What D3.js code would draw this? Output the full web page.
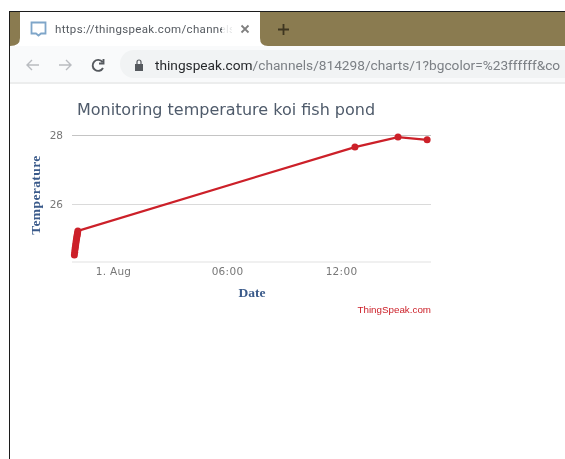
<!DOCTYPE html>
<html lang="en">

<head>
    <meta charset="utf-8">
    <script src="https://cdnjs.cloudflare.com/ajax/libs/d3/7.8.5/d3.min.js"></script>
    <style>
        html, body { margin: 0; padding: 0; background: #fff; }
        svg { display: block; }
    </style>
</head>

<body>
    <script>
        // values
        const times = ["2019-07-31T21:58", "2019-07-31T21:59", "2019-07-31T22:00", "2019-07-31T22:01",
            "2019-07-31T22:02", "2019-07-31T22:03", "2019-07-31T22:04", "2019-07-31T22:05",
            "2019-07-31T22:06", "2019-07-31T22:07", "2019-07-31T22:08", "2019-07-31T22:09",
            "2019-08-01T12:44", "2019-08-01T15:00", "2019-08-01T16:32"];
        const temperature = [24.52, 24.6, 24.68, 24.75, 24.81, 24.88, 24.94, 25.0,
            25.06, 25.11, 25.16, 25.22, 27.65, 27.94, 27.86];
        const xTicks = ["2019-08-01T00:00", "2019-08-01T06:00", "2019-08-01T12:00"];
        const xTickLabels = ["1. Aug", "06:00", "12:00"];
        const yTicks = [26, 28];

        const chartTitle = "Monitoring temperature koi fish pond";
        const xTitle = "Date";
        const yTitle = "Temperature";
        const credit = "ThingSpeak.com";
        const tabTitle = "https://thingspeak.com/channels";
        const urlHost = "thingspeak.com";
        const urlPath = "/channels/814298/charts/1?bgcolor=%23ffffff&co";

        const width = 565;
        const height = 459;
        const font = "'DejaVu Sans', sans-serif";
        const serif = "'Liberation Serif', serif";
        const uiFont = "Roboto, 'Open Sans', sans-serif";
        const red = "#cc2029";

        const svg = d3.select("body").append("svg")
            .attr("width", width)
            .attr("height", height)
            .style("filter", "blur(0.6px)");

        // browser frame
        const frame = svg.append("g");
        frame.append("rect").attr("x", 9).attr("y", 11).attr("width", 556).attr("height", 448).attr("fill", "#1c1c1c");
        frame.append("rect").attr("x", 10).attr("y", 12).attr("width", 555).attr("height", 447).attr("fill", "#ffffff");
        frame.append("rect").attr("x", 10).attr("y", 12).attr("width", 555).attr("height", 35).attr("fill", "#8a7b50");
        frame.append("path")
            .attr("d", "M10,46 Q20,46 20,38 V12 H260 V38 Q260,46 268,46 Z")
            .attr("fill", "#ffffff");
        frame.append("rect").attr("x", 10).attr("y", 46).attr("width", 555).attr("height", 37).attr("fill", "#f9fafb");
        frame.append("rect").attr("x", 120).attr("y", 50).attr("width", 480).attr("height", 28).attr("rx", 14).attr("fill", "#f1f3f4");
        frame.append("rect").attr("x", 10).attr("y", 82).attr("width", 555).attr("height", 2).attr("fill", "#eceded");

        // tab icon, title, close and new tab
        frame.append("path")
            .attr("d", "M31.5,22.5 H45.5 V33.5 H41 L38.5,35.5 L36,33.5 H31.5 Z")
            .attr("fill", "none").attr("stroke", "#7fa6c9").attr("stroke-width", 1.8);
        frame.append("text").attr("x", 55).attr("y", 33).attr("font-family", uiFont).attr("font-size", 11.5)
            .attr("fill", "#555a60").attr("textLength", 180).text(tabTitle);
        frame.append("rect").attr("x", 222).attr("y", 20).attr("width", 16).attr("height", 20).attr("fill", "#ffffff").attr("opacity", 0.85);
        frame.append("rect").attr("x", 232).attr("y", 20).attr("width", 8).attr("height", 20).attr("fill", "#ffffff");
        frame.append("path").attr("d", "M241.5,25.5 L248.5,32.5 M248.5,25.5 L241.5,32.5").attr("stroke", "#808080").attr("stroke-width", 1.8);
        frame.append("path").attr("d", "M278,29.5 H289 M283.5,24 V35").attr("stroke", "#3e3620").attr("stroke-width", 1.8);

        // back, forward, reload, lock
        frame.append("path").attr("d", "M39,65 H27 M32,60 L27,65 L32,70")
            .attr("fill", "none").attr("stroke", "#b9bcc0").attr("stroke-width", 1.4);
        frame.append("path").attr("d", "M59,65 H71 M66,60 L71,65 L66,70")
            .attr("fill", "none").attr("stroke", "#b9bcc0").attr("stroke-width", 1.4);
        frame.append("path").attr("d", "M102.5,62 A5.5,5.5 0 1 0 103,68 M103.5,59 V63.5 H99")
            .attr("fill", "none").attr("stroke", "#55595e").attr("stroke-width", 1.9);
        frame.append("rect").attr("x", 135).attr("y", 64).attr("width", 8).attr("height", 7).attr("fill", "#55595e");
        frame.append("path").attr("d", "M137,64 V62 A2,2 0 0 1 141,62 V64")
            .attr("fill", "none").attr("stroke", "#55595e").attr("stroke-width", 1.2);
        const urlText = frame.append("text").attr("x", 155).attr("y", 70)
            .attr("font-family", uiFont).attr("font-size", 13.7);
        urlText.append("tspan").attr("fill", "#26282b").text(urlHost);
        urlText.append("tspan").attr("fill", "#7b7f84").text(urlPath);

        // chart
        const parseTime = d3.isoParse;
        const x = d3.scaleTime()
            .domain([parseTime("2019-08-01T00:00"), parseTime("2019-08-01T12:00")])
            .range([113, 341]);
        const y = d3.scaleLinear()
            .domain([26, 28])
            .range([204, 135]);
        const plotLeft = 72;
        const plotRight = 431;
        const plotBottom = 262;

        const data = times.map((t, i) => ({ time: parseTime(t), value: temperature[i] }));

        // gridlines and y labels come from the axis
        const yAxis = d3.axisLeft(y)
            .tickValues(yTicks)
            .tickFormat(d3.format("d"))
            .tickSize(0)
            .tickPadding(9);
        const gy = svg.append("g")
            .attr("transform", "translate(" + plotLeft + ",0)")
            .call(yAxis);
        gy.select(".domain").remove();
        gy.selectAll("line").attr("x1", 0).attr("x2", plotRight - plotLeft)
            .attr("stroke", d => d === 28 ? "#c4c4c4" : "#dadada").attr("stroke-width", 1.2);
        gy.selectAll("text").attr("font-family", font).attr("font-size", 10.5).attr("fill", "#777777");

        const xAxis = d3.axisBottom(x)
            .tickValues(xTicks.map(parseTime))
            .tickFormat((d, i) => xTickLabels[i])
            .tickSize(0)
            .tickPadding(6);
        const gx = svg.append("g")
            .attr("transform", "translate(0," + plotBottom + ")")
            .call(xAxis);
        gx.select(".domain").attr("d", "M" + plotLeft + ",0H" + plotRight).attr("stroke", "#e2e2e2").attr("stroke-width", 1.2);
        gx.selectAll("text").attr("font-family", font).attr("font-size", 10.5).attr("letter-spacing", 0.3).attr("fill", "#777777");

        const line = d3.line()
            .x(d => x(d.time))
            .y(d => y(d.value));
        svg.append("path")
            .datum(data)
            .attr("fill", "none")
            .attr("stroke", red)
            .attr("stroke-width", 2.2)
            .attr("d", line);
        svg.selectAll("circle").data(data)
            .enter()
            .append("circle")
            .attr("cx", d => x(d.time))
            .attr("cy", d => y(d.value))
            .attr("r", 3.5)
            .attr("fill", red);

        // titles
        svg.append("text").attr("x", 226).attr("y", 115).attr("text-anchor", "middle")
            .attr("font-family", font).attr("font-size", 16).attr("fill", "#4f5b6b").text(chartTitle);
        svg.append("text").attr("x", 252).attr("y", 297).attr("text-anchor", "middle")
            .attr("font-family", serif).attr("font-size", 13.5).attr("font-weight", "bold")
            .attr("fill", "#3a5a8a").text(xTitle);
        svg.append("text").attr("transform", "translate(40,195) rotate(-90)").attr("text-anchor", "middle")
            .attr("font-family", serif).attr("font-size", 13.5).attr("font-weight", "bold").attr("letter-spacing", 0.4)
            .attr("fill", "#3a5a8a").text(yTitle);
        svg.append("text").attr("x", 431).attr("y", 313).attr("text-anchor", "end")
            .attr("font-family", "'Liberation Sans', sans-serif").attr("font-size", 9.8).attr("fill", red).text(credit);
    </script>
</body>

</html>
